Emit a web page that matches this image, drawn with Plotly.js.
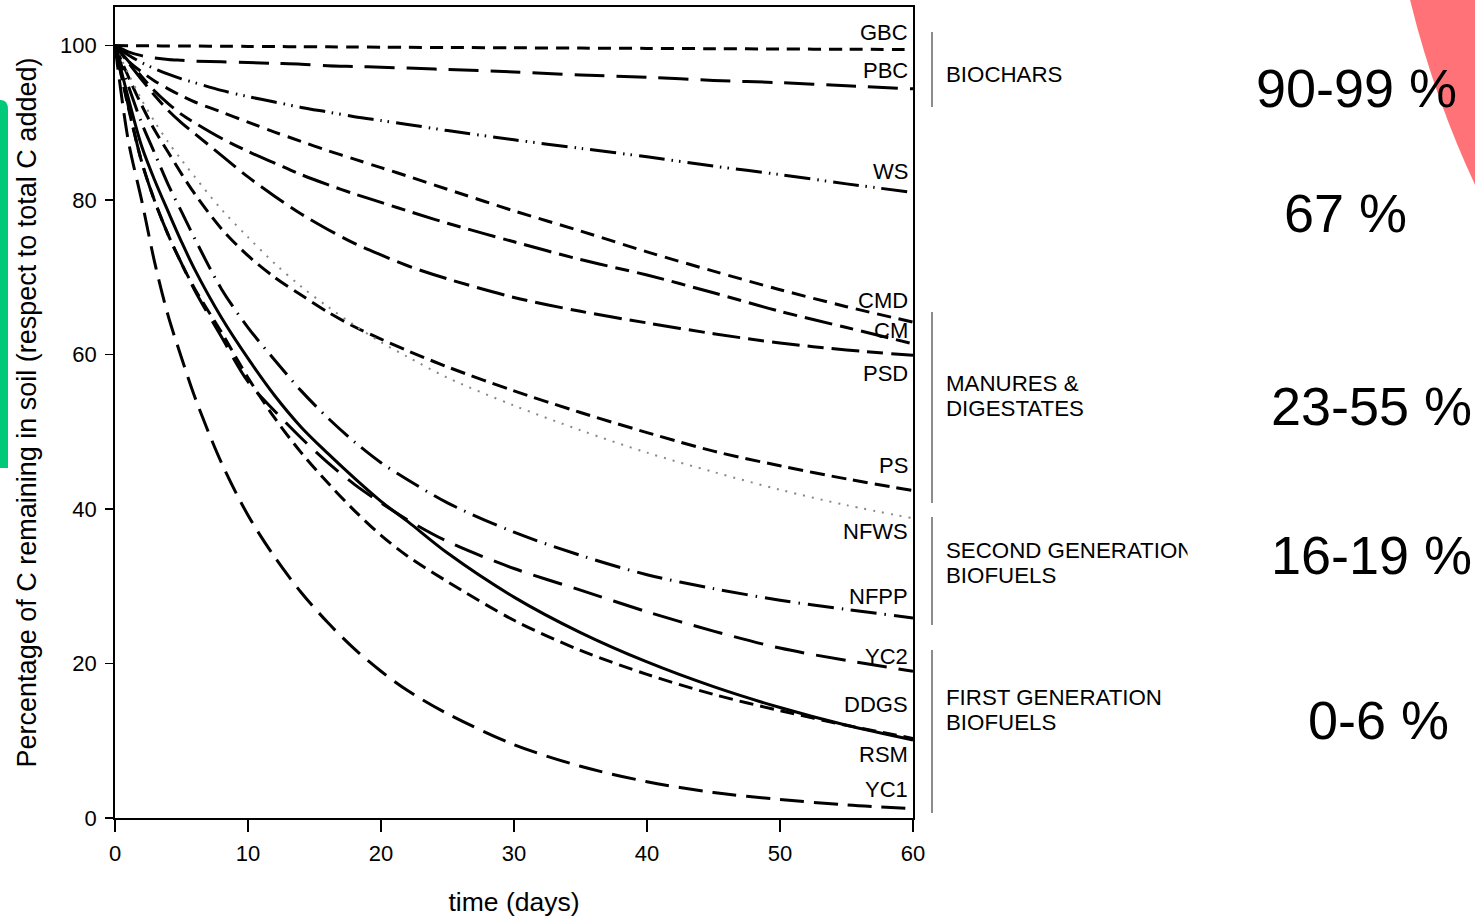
<!DOCTYPE html>
<html>
<head>
<meta charset="utf-8">
<script src="https://cdn.plot.ly/plotly-3.0.1.min.js"></script>
<style>html,body{margin:0;padding:0;background:#fff;}#chart{width:1475px;height:918px;}</style>
</head>
<body>
<div id="chart"></div>
<script>
// ---- data ----
const TIME = [0,1,2,3,4,5,6,8,10,12,14,16,18,20,22,25,30,35,40,45,50,55,60];

const GBC  = [100,99.99,99.98,99.97,99.96,99.95,99.94,99.92,99.9,99.88,99.86,99.84,99.82,99.8,99.78,99.76,99.72,99.68,99.64,99.6,99.56,99.53,99.5];
const PBC  = [100,99.2,98.7,98.4,98.2,98.1,98.0,97.9,97.8,97.7,97.6,97.4,97.3,97.2,97.1,96.9,96.6,96.2,95.9,95.5,95.2,94.8,94.4];
const WS   = [100,98.8,97.8,97.0,96.3,95.7,95.2,94.2,93.4,92.7,92.0,91.4,90.8,90.3,89.8,89.0,87.8,86.7,85.6,84.4,83.3,82.1,81.0];
const CMD  = [100,98.0,96.6,95.4,94.4,93.5,92.7,91.4,90.1,88.8,87.6,86.4,85.3,84.2,83.1,81.4,78.6,76.0,73.3,70.8,68.4,66.2,64.2];
const CM   = [100,98.0,96.0,94.1,92.5,91.1,90.0,88.0,86.3,84.8,83.3,82.0,80.8,79.7,78.6,77.0,74.6,72.3,70.3,68.0,65.6,63.5,61.4];
const PSD  = [100,97.8,95.6,93.5,91.6,90.0,88.6,85.8,83.0,80.5,78.2,76.2,74.4,72.9,71.5,69.8,67.4,65.6,64.1,62.7,61.5,60.6,59.9];
const PS   = [100,96.0,92.3,89.0,86.2,83.4,80.8,76.3,72.8,70.0,67.7,65.5,63.6,62.0,60.5,58.4,55.3,52.5,49.9,47.5,45.6,43.9,42.4];
const NFWS = [100,96.4,93.0,90.1,87.5,85.2,83.0,78.8,75.2,71.8,68.8,66.2,63.8,61.6,59.7,57.0,53.4,50.2,47.3,44.8,42.5,40.5,38.8];
const NFPP = [100,94.8,90.0,86.0,82.0,78.5,75.0,68.5,63.5,59.3,55.3,51.8,48.7,46.0,43.8,40.8,37.0,34.0,31.5,29.7,28.2,27.0,25.9];
const YC2  = [100,92.2,85.0,79.8,75.5,71.8,68.3,62.3,56.5,52.7,49.2,46.0,43.2,40.8,38.6,35.8,32.3,29.5,26.7,24.2,22.0,20.4,19.0];
const DDGS = [100,93.2,87.0,82.5,78.5,74.6,71.0,64.8,59.5,54.7,50.6,47.2,44.0,41.0,38.4,34.3,28.6,24.0,20.2,17.0,14.3,12.0,10.1];
const RSM  = [100,92.0,85.0,79.8,75.5,71.8,68.5,62.9,57.0,51.8,47.3,43.4,39.8,36.6,33.9,30.6,25.6,21.7,18.6,16.0,13.9,12.0,10.3];
const YC1  = [100,87.7,80.0,71.8,65.0,59.6,54.5,46.0,39.2,33.8,29.2,25.3,21.9,19.0,16.5,13.5,9.5,6.7,4.7,3.3,2.4,1.7,1.2];

const SERIES_NAMES = ['GBC','PBC','WS','CMD','CM','PSD','PS','NFWS','NFPP','YC2','DDGS','RSM','YC1'];
const SERIES_VALUES = [GBC,PBC,WS,CMD,CM,PSD,PS,NFWS,NFPP,YC2,DDGS,RSM,YC1];

const GROUP_LABELS = [['BIOCHARS'],['MANURES &','DIGESTATES'],['SECOND GENERATION','BIOFUELS'],['FIRST GENERATION','BIOFUELS']];
const GROUP_PERCENT = ['90-99 %','67 %','23-55 %','16-19 %','0-6 %'];

const X_TITLE = 'time (days)';
const Y_TITLE = 'Percentage of C remaining in soil (respect to total C added)';

// ---- styles / positions ----
const L=115, R=913, T=7, B=818;
function px(x){return (x-L)/(R-L);}
function py(y){return (B-y)/(B-T);}

const STYLE = {
  GBC: {dash:'13px,8px', width:3, color:'#000'},
  PBC: {dash:'30px,12px', width:3, color:'#000'},
  WS:  {dash:'26px,7px,1.5px,6px,1.5px,7px', width:3, color:'#000'},
  CMD: {dash:'14px,8px', width:3, color:'#000'},
  CM:  {dash:'28px,8px,14px,8px', width:3, color:'#000'},
  PSD: {dash:'16px,8px,28px,8px', width:3, color:'#000'},
  PS:  {dash:'15px,7px', width:3, color:'#000'},
  NFWS:{dash:'2px,7px', width:2, color:'#888'},
  NFPP:{dash:'26px,8px,1.5px,8px', width:3, color:'#000'},
  YC2: {dash:'30px,12px', width:3, color:'#000'},
  DDGS:{dash:'solid', width:3, color:'#000'},
  RSM: {dash:'14px,7px', width:3, color:'#000'},
  YC1: {dash:'24px,10px', width:3, color:'#000'}
};
const LABEL_Y = {GBC:32,PBC:71,WS:171,CMD:300,CM:330,PSD:373,PS:465,NFWS:531,NFPP:596,YC2:656,DDGS:704,RSM:754,YC1:789};

const FONT = 'Liberation Sans, Arial, sans-serif';

const traces = SERIES_NAMES.map((n,i)=>({
  type:'scatter', mode:'lines', name:n, x:TIME, y:SERIES_VALUES[i],
  line:{color:STYLE[n].color, width:STYLE[n].width, dash:STYLE[n].dash, shape:'spline', smoothing:0.9},
  hoverinfo:'x+y+name', showlegend:false
}));

const annotations = [];
SERIES_NAMES.forEach(n=>{
  annotations.push({xref:'paper', yref:'paper', x:px(909), y:py(LABEL_Y[n]), xanchor:'right', yanchor:'middle',
    text:n, showarrow:false, font:{family:FONT, size:22, color:'#000'}, borderpad:0});
});
const groupY = [[74],[383,408],[550,575],[697,722]];
GROUP_LABELS.forEach((lines,gi)=>{
  lines.forEach((s,li)=>{
    annotations.push({xref:'paper', yref:'paper', x:px(945), y:py(groupY[gi][li]), xanchor:'left', yanchor:'middle',
      text:s, showarrow:false, font:{family:FONT, size:22.3, color:'#000'}, borderpad:0});
  });
});
// mask clipping the end of "SECOND GENERATION"
annotations.push({xref:'paper', yref:'paper', x:px(1187), y:py(550), xanchor:'left', yanchor:'middle',
  text:'\u00a0', showarrow:false, width:24, height:30, bgcolor:'#ffffff', borderpad:0, font:{size:20}});
const pctPos = [[1356,88],[1345,213],[1371,406],[1371,555],[1378,720]];
GROUP_PERCENT.forEach((s,i)=>{
  annotations.push({xref:'paper', yref:'paper', x:px(pctPos[i][0]), y:py(pctPos[i][1]), xanchor:'center', yanchor:'middle',
    text:s, showarrow:false, font:{family:FONT, size:54, color:'#000'}, borderpad:0});
});

const bracket = [[32,107],[312,503],[517,625],[650,813]];
const shapes = bracket.map(b=>({type:'line', xref:'paper', yref:'paper', x0:px(932), x1:px(932), y0:py(b[0]), y1:py(b[1]),
  line:{color:'#666', width:1.5}}));
// decorative red circle (top right) and green bar (left)
const cx=2371, cy=-234, cr=989;
shapes.push({type:'circle', xref:'paper', yref:'paper', layer:'below', x0:px(cx-cr), x1:px(cx+cr), y0:py(cy+cr), y1:py(cy-cr),
  fillcolor:'#FF7378', line:{width:0}});
shapes.push({type:'path', xref:'paper', yref:'paper', layer:'below',
  path:`M ${px(0)},${py(468)} L ${px(0)},${py(100)} L ${px(1)},${py(100)} Q ${px(8)},${py(100)} ${px(8)},${py(110)} L ${px(8)},${py(468)} Z`,
  fillcolor:'#00C97A', line:{width:0}});

const layout = {
  width:1475, height:918,
  margin:{l:L, r:1475-R, t:T, b:918-B, pad:0},
  paper_bgcolor:'#fff', plot_bgcolor:'rgba(0,0,0,0)',
  showlegend:false,
  font:{family:FONT, color:'#000'},
  xaxis:{range:[0,60], tickvals:[0,10,20,30,40,50,60], ticks:'outside', ticklen:12, tickwidth:1.5, tickcolor:'#000',
    showline:true, linecolor:'#000', linewidth:1.8, mirror:true, showgrid:false, zeroline:false,
    ticklabelstandoff:3,
    tickfont:{family:FONT, size:22, color:'#000'},
    title:{text:X_TITLE, font:{family:FONT, size:26.5, color:'#000'}, standoff:27}},
  yaxis:{range:[0,105], tickvals:[0,20,40,60,80,100], ticks:'outside', ticklen:8, tickwidth:1.5, tickcolor:'#000',
    showline:true, linecolor:'#000', linewidth:1.8, mirror:true, showgrid:false, zeroline:false,
    ticklabelstandoff:4,
    tickfont:{family:FONT, size:22, color:'#000'},
    title:{text:Y_TITLE, font:{family:FONT, size:27, color:'#000'}, standoff:16}},
  annotations:annotations, shapes:shapes
};

Plotly.newPlot('chart', traces, layout, {staticPlot:true, displayModeBar:false});
</script>
</body>
</html>
